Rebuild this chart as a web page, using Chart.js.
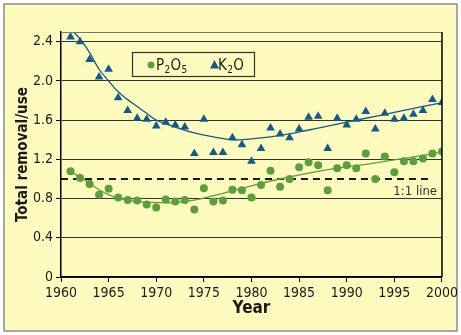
<!DOCTYPE html>
<html lang="en">
<head>
    <meta charset="UTF-8">
    <title>Total removal/use</title>
    <style>
        body {
            margin: 0;
            background: #fff;
        }
        #chartBox {
            width: 461px;
            height: 335px;
        }
    </style>
    <script src="https://cdn.jsdelivr.net/npm/chart.js"></script>
</head>
<body>
    <div id="chartBox">
        <canvas id="removalChart"></canvas>
    </div>

    <script>
        // values
        const years = [1961, 1962, 1963, 1964, 1965, 1966, 1967, 1968, 1969, 1970,
                       1971, 1972, 1973, 1974, 1975, 1976, 1977, 1978, 1979, 1980,
                       1981, 1982, 1983, 1984, 1985, 1986, 1987, 1988, 1989, 1990,
                       1991, 1992, 1993, 1994, 1995, 1996, 1997, 1998, 1999, 2000];
        const p2o5 = [1.08, 1.01, 0.95, 0.84, 0.90, 0.81, 0.785, 0.78, 0.74, 0.71,
                      0.79, 0.77, 0.785, 0.69, 0.905, 0.77, 0.78, 0.89, 0.885, 0.81,
                      0.94, 1.085, 0.92, 1.00, 1.12, 1.17, 1.14, 0.885, 1.11, 1.14,
                      1.11, 1.26, 1.00, 1.23, 1.07, 1.18, 1.18, 1.21, 1.26, 1.28];
        const k2o = [2.45, 2.40, 2.22, 2.04, 2.12, 1.83, 1.70, 1.62, 1.61, 1.54,
                     1.58, 1.55, 1.53, 1.26, 1.61, 1.27, 1.27, 1.42, 1.35, 1.18,
                     1.31, 1.52, 1.46, 1.42, 1.51, 1.63, 1.64, 1.31, 1.62, 1.55,
                     1.61, 1.69, 1.51, 1.67, 1.61, 1.62, 1.66, 1.70, 1.81, 1.78];

        // fitted curves as drawn in the figure
        const p2o5TrendYears = [1961, 1962, 1963, 1964, 1965, 1966, 1968, 1970, 1972, 1974,
                                1976, 1978, 1980, 1983, 1986, 1989, 1992, 1995, 1998, 2000];
        const p2o5Trend = [1.075, 1.02, 0.955, 0.89, 0.84, 0.805, 0.77, 0.76, 0.76, 0.785,
                           0.83, 0.88, 0.93, 1.00, 1.06, 1.11, 1.15, 1.195, 1.24, 1.28];
        const k2oTrendYears = [1961, 1962, 1963, 1964, 1965, 1966, 1967, 1968, 1969, 1970,
                               1972, 1974, 1976, 1978, 1980, 1982, 1984, 1986, 1988, 1990,
                               1992, 1994, 1996, 1998, 2000];
        const k2oTrend = [2.53, 2.43, 2.29, 2.12, 2.00, 1.89, 1.81, 1.74, 1.67, 1.60,
                          1.53, 1.47, 1.43, 1.40, 1.41, 1.43, 1.46, 1.50, 1.54, 1.58,
                          1.62, 1.66, 1.70, 1.74, 1.78];

        const oneToOneYears = [1960, 1999];
        const oneToOne = [1.0, 1.0];

        const yTicks = [0, 0.4, 0.8, 1.2, 1.6, 2.0, 2.4];

        const greenColor = '#5a9e3e';
        const blueColor = '#105a8c';
        const narrow = '"Liberation Sans Narrow", "DejaVu Sans Condensed", sans-serif';

        function toPoints(xs, ys) {
            return xs.map((x, i) => ({ x: x, y: ys[i] }));
        }

        // yellow panel, plot frame, legend and the "1:1 line" label
        const decorPlugin = {
            id: 'decor',
            beforeDraw(chart) {
                const ctx = chart.ctx;
                ctx.save();
                ctx.fillStyle = '#ffffff';
                ctx.fillRect(0, 0, chart.width, chart.height);
                ctx.fillStyle = '#fffbbe';
                ctx.fillRect(4, 4, 453, 327);
                ctx.strokeStyle = '#8c8c8c';
                ctx.lineWidth = 1.5;
                ctx.strokeRect(4, 4, 453, 327);
                ctx.restore();
            },
            afterDatasetsDraw(chart) {
                const ctx = chart.ctx;
                const area = chart.chartArea;
                ctx.save();
                // top and right edge of the plot
                ctx.strokeStyle = '#777';
                ctx.lineWidth = 1;
                ctx.beginPath();
                ctx.moveTo(area.left, area.top + 0.5);
                ctx.lineTo(area.right, area.top + 0.5);
                ctx.stroke();
                ctx.strokeStyle = '#000';
                ctx.lineWidth = 1.5;
                ctx.beginPath();
                ctx.moveTo(area.right, area.top);
                ctx.lineTo(area.right, area.bottom);
                ctx.stroke();

                // legend box
                ctx.fillStyle = '#fffbbe';
                ctx.fillRect(132, 52, 123, 24);
                ctx.strokeStyle = '#333';
                ctx.lineWidth = 1.2;
                ctx.strokeRect(132.5, 52.5, 122, 24);

                ctx.fillStyle = greenColor;
                ctx.beginPath();
                ctx.arc(151, 65, 3.5, 0, Math.PI * 2);
                ctx.fill();

                ctx.fillStyle = blueColor;
                ctx.beginPath();
                ctx.moveTo(214.5, 60);
                ctx.lineTo(219, 68.5);
                ctx.lineTo(210, 68.5);
                ctx.closePath();
                ctx.fill();

                ctx.fillStyle = '#1a1a1a';
                ctx.textBaseline = 'alphabetic';
                const big = '15px ' + narrow;
                const small = '10px ' + narrow;
                let x = 156;
                const parts = [['P', big, 0], ['2', small, 3], ['O', big, 0], ['5', small, 3]];
                parts.forEach(p => {
                    ctx.font = p[1];
                    ctx.fillText(p[0], x, 70 + p[2]);
                    x += ctx.measureText(p[0]).width + 0.3;
                });
                x = 218;
                [['K', big, 0], ['2', small, 3], ['O', big, 0]].forEach(p => {
                    ctx.font = p[1];
                    ctx.fillText(p[0], x, 70 + p[2]);
                    x += ctx.measureText(p[0]).width + 0.3;
                });

                ctx.font = '13px ' + narrow;
                ctx.fillStyle = '#333';
                ctx.textAlign = 'right';
                ctx.fillText('1:1 line', 437, 195);
                ctx.restore();
            }
        };

        const ctx = document.getElementById('removalChart').getContext('2d');
        new Chart(ctx, {
            type: 'scatter',
            data: {
                datasets: [
                    {
                        label: 'P2O5',
                        data: toPoints(years, p2o5),
                        backgroundColor: greenColor,
                        borderColor: greenColor,
                        pointStyle: 'circle',
                        pointRadius: 4,
                        borderWidth: 0,
                        order: 1
                    },
                    {
                        label: 'K2O',
                        data: toPoints(years, k2o),
                        backgroundColor: blueColor,
                        borderColor: blueColor,
                        pointStyle: 'triangle',
                        pointRadius: 5,
                        borderWidth: 0,
                        order: 2
                    },
                    {
                        label: 'P2O5 trend',
                        data: toPoints(p2o5TrendYears, p2o5Trend),
                        showLine: true,
                        borderColor: greenColor,
                        borderWidth: 1.3,
                        pointRadius: 0,
                        tension: 0.4,
                        order: 3
                    },
                    {
                        label: 'K2O trend',
                        data: toPoints(k2oTrendYears, k2oTrend),
                        showLine: true,
                        borderColor: blueColor,
                        borderWidth: 1.3,
                        pointRadius: 0,
                        tension: 0.4,
                        order: 4
                    },
                    {
                        label: '1:1 line',
                        data: toPoints(oneToOneYears, oneToOne),
                        showLine: true,
                        borderColor: '#1a1a1a',
                        borderWidth: 2,
                        borderDash: [7, 5],
                        pointRadius: 0,
                        order: 5
                    }
                ]
            },
            options: {
                responsive: true,
                maintainAspectRatio: false,
                animation: false,
                layout: {
                    padding: { top: 32, right: 18, left: 0, bottom: 0 }
                },
                plugins: {
                    legend: { display: false },
                    tooltip: { enabled: false }
                },
                scales: {
                    x: {
                        type: 'linear',
                        min: 1960,
                        max: 2000,
                        ticks: {
                            stepSize: 5,
                            color: '#1a1a1a',
                            padding: 3,
                            font: { family: narrow, size: 14 },
                            callback: v => String(v)
                        },
                        grid: {
                            drawOnChartArea: false,
                            drawTicks: true,
                            tickLength: 5,
                            tickColor: '#000'
                        },
                        border: { color: '#000', width: 1.5 },
                        title: {
                            display: true,
                            text: 'Year',
                            color: '#1a1a1a',
                            font: { family: narrow, size: 17, weight: 'bold' },
                            padding: { top: 0, bottom: 16 }
                        },
                        afterFit: scale => { scale.height = 58; }
                    },
                    y: {
                        min: 0,
                        max: 2.5,
                        afterBuildTicks: scale => {
                            scale.ticks = yTicks.map(v => ({ value: v }));
                        },
                        ticks: {
                            color: '#1a1a1a',
                            padding: 3,
                            font: { family: narrow, size: 14 },
                            callback: v => (v === 0 ? '0' : v.toFixed(1))
                        },
                        grid: {
                            color: '#333',
                            lineWidth: 1,
                            drawTicks: true,
                            tickLength: 5,
                            tickColor: '#000'
                        },
                        border: { color: '#000', width: 1.5 },
                        title: {
                            display: true,
                            text: 'Total removal/use',
                            color: '#1a1a1a',
                            font: { family: narrow, size: 15, weight: 'bold' },
                            padding: { top: 14, bottom: 0 }
                        },
                        afterFit: scale => { scale.width = 61; }
                    }
                }
            },
            plugins: [decorPlugin]
        });
    </script>
</body>
</html>
